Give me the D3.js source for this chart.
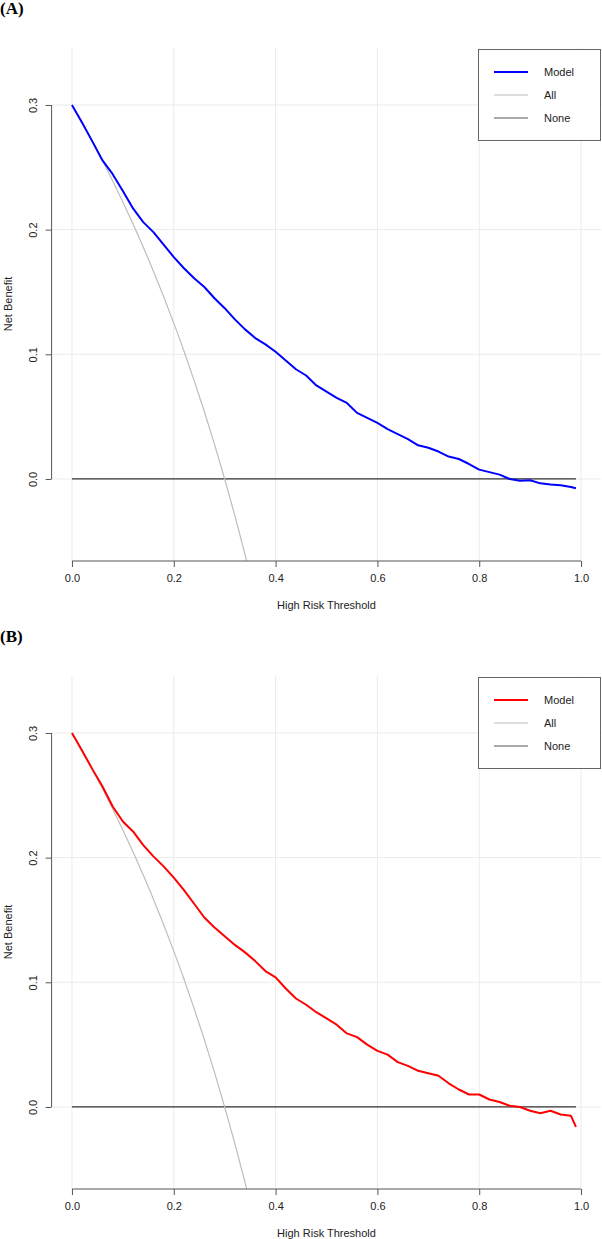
<!DOCTYPE html>
<html>
<head>
<meta charset="utf-8">
<title>Decision curves</title>
<script src="https://cdn.jsdelivr.net/npm/d3@7"></script>
<style>
  body { margin: 0; background: #fff; }
  svg text { font-family: "Liberation Sans", Arial, sans-serif; fill: #222; }
</style>
</head>
<body>
<svg id="chart" width="602" height="1239"></svg>
<script>
// thresholds used for every series (last point at 0.99)
const thresholds = [0.00,0.02,0.04,0.06,0.08,0.10,0.12,0.14,0.16,0.18,
                    0.20,0.22,0.24,0.26,0.28,0.30,0.32,0.34,0.36,0.38,
                    0.40,0.42,0.44,0.46,0.48,0.50,0.52,0.54,0.56,0.58,
                    0.60,0.62,0.64,0.66,0.68,0.70,0.72,0.74,0.76,0.78,
                    0.80,0.82,0.84,0.86,0.88,0.90,0.92,0.94,0.96,0.98,0.99];

// panel A model net benefit
const modelA = [0.300,0.2857,0.2708,0.2555,0.2445,0.231,0.217,0.206,0.198,0.188,
                0.178,0.169,0.161,0.154,0.145,0.137,0.128,0.120,0.113,0.108,
                0.102,0.095,0.088,0.083,0.075,0.070,0.065,0.061,0.053,0.049,
                0.045,0.040,0.036,0.032,0.027,0.025,0.022,0.018,0.016,0.012,
                0.0075,0.0055,0.0035,0.000,-0.0015,-0.001,-0.0035,-0.0045,-0.005,-0.0065,-0.0075];

// panel B model net benefit
const modelB = [0.300,0.2857,0.271,0.257,0.241,0.229,0.221,0.210,0.201,0.193,
                0.184,0.174,0.163,0.152,0.144,0.137,0.130,0.124,0.117,0.109,
                0.104,0.095,0.087,0.082,0.076,0.071,0.066,0.059,0.056,0.050,
                0.045,0.042,0.036,0.033,0.029,0.027,0.025,0.019,0.014,0.010,
                0.010,0.006,0.004,0.001,0.000,-0.003,-0.005,-0.003,-0.006,-0.007,-0.016];

// "treat all" curve (same in both panels), only the visible part
const allT = [0.00,0.02,0.04,0.06,0.08,0.10,0.12,0.14,0.16,0.18,0.20,0.22,0.24,0.26,0.28,0.30,0.32,0.34,0.36];
const allV = [0.300,0.2857,0.2708,0.2553,0.2391,0.2222,0.2045,0.1860,0.1667,0.1463,
              0.1250,0.1026,0.0789,0.0541,0.0278,0.000,-0.0294,-0.0606,-0.0938];

const xTicks = [0, 0.2, 0.4, 0.6, 0.8, 1.0];
const yTicks = [0, 0.1, 0.2, 0.3];
const legendLabels = ["Model", "All", "None"];

const svg = d3.select("#chart");

const x = d3.scaleLinear().domain([-0.04, 1.04]).range([51.6, 601.4]);

function drawPanel(top, label, values, color, id) {
  const y = d3.scaleLinear().domain([-0.0658, 0.3457]).range([top + 513, top]);
  const g = svg.append("g");

  g.append("text")
    .attr("x", 0).attr("y", top - 34)
    .style("font-family", "'Liberation Serif', 'Times New Roman', serif")
    .style("font-weight", "bold")
    .style("font-size", "17px")
    .style("fill", "#000")
    .text(label);

  g.append("clipPath").attr("id", id)
    .append("rect")
    .attr("x", x.range()[0]).attr("y", top)
    .attr("width", x.range()[1] - x.range()[0]).attr("height", 513);

  // grid
  g.selectAll(".vgrid").data(xTicks).enter().append("line")
    .attr("x1", d => x(d)).attr("x2", d => x(d))
    .attr("y1", top).attr("y2", top + 513)
    .attr("stroke", "#ebebeb").attr("stroke-width", 1);
  g.selectAll(".hgrid").data(yTicks).enter().append("line")
    .attr("x1", x.range()[0]).attr("x2", x.range()[1])
    .attr("y1", d => y(d)).attr("y2", d => y(d))
    .attr("stroke", "#ebebeb").attr("stroke-width", 1);

  const plot = g.append("g").attr("clip-path", "url(#" + id + ")");

  // none
  plot.append("line")
    .attr("x1", x(0)).attr("x2", x(0.99))
    .attr("y1", y(0)).attr("y2", y(0))
    .attr("stroke", "#333").attr("stroke-width", 1.2);

  // all
  const allData = allT.map((t, i) => [t, allV[i]]);
  plot.append("path")
    .datum(allData)
    .attr("fill", "none")
    .attr("stroke", "#bdbdbd")
    .attr("stroke-width", 1.2)
    .attr("d", d3.line().x(d => x(d[0])).y(d => y(d[1])).curve(d3.curveMonotoneX));

  // model
  const modelData = thresholds.map((t, i) => [t, values[i]]);
  plot.append("path")
    .datum(modelData)
    .attr("fill", "none")
    .attr("stroke", color)
    .attr("stroke-width", 2)
    .attr("stroke-linejoin", "round")
    .attr("d", d3.line().x(d => x(d[0])).y(d => y(d[1])));

  // x axis
  const xAxis = g.append("g")
    .attr("transform", "translate(0," + (top + 513) + ")")
    .call(d3.axisBottom(x).tickValues(xTicks).tickSize(6).tickPadding(7).tickFormat(d3.format(".1f")));
  xAxis.select(".domain").remove();
  xAxis.append("line")
    .attr("x1", x(0)).attr("x2", x(1)).attr("y1", 0).attr("y2", 0)
    .attr("stroke", "#555");
  xAxis.selectAll(".tick line").attr("stroke", "#555");
  xAxis.selectAll(".tick text").style("font-size", "11px").style("fill", "#222");

  // y axis
  const yAxis = g.append("g")
    .attr("transform", "translate(" + x.range()[0] + ",0)")
    .call(d3.axisLeft(y).tickValues(yTicks).tickSize(6).tickFormat(d3.format(".1f")));
  yAxis.select(".domain").remove();
  yAxis.append("line")
    .attr("x1", 0).attr("x2", 0).attr("y1", y(0)).attr("y2", y(0.3))
    .attr("stroke", "#555");
  yAxis.selectAll(".tick line").attr("stroke", "#555");
  yAxis.selectAll(".tick text")
    .attr("transform", "rotate(-90)")
    .attr("x", 0).attr("y", -15).attr("dy", 0)
    .attr("text-anchor", "middle")
    .style("font-size", "11px").style("fill", "#222");

  // axis titles
  g.append("text")
    .attr("x", (x.range()[0] + x.range()[1]) / 2)
    .attr("y", top + 561)
    .attr("text-anchor", "middle")
    .style("font-size", "11px")
    .text("High Risk Threshold");
  g.append("text")
    .attr("transform", "translate(12," + (top + 256) + ") rotate(-90)")
    .attr("text-anchor", "middle")
    .style("font-size", "11px")
    .text("Net Benefit");

  // legend
  const lg = g.append("g");
  lg.append("rect")
    .attr("x", 478.5).attr("y", top + 1.5)
    .attr("width", 122).attr("height", 91)
    .attr("fill", "#fff").attr("stroke", "#666");
  const legendColors = [color, "#bdbdbd", "#555"];
  const legendWidths = [2, 1.2, 1.2];
  lg.selectAll(".item").data(legendLabels).enter().append("g")
    .each(function (d, i) {
      const row = d3.select(this);
      const yy = top + 24 + i * 23;
      row.append("line")
        .attr("x1", 494).attr("x2", 528).attr("y1", yy).attr("y2", yy)
        .attr("stroke", legendColors[i]).attr("stroke-width", legendWidths[i]);
      row.append("text")
        .attr("x", 544).attr("y", yy).attr("dy", "0.35em")
        .style("font-size", "11px")
        .text(d);
    });
}

drawPanel(48, "(A)", modelA, "#0000ff", "clipA");
drawPanel(676, "(B)", modelB, "#ff0000", "clipB");
</script>
</body>
</html>
